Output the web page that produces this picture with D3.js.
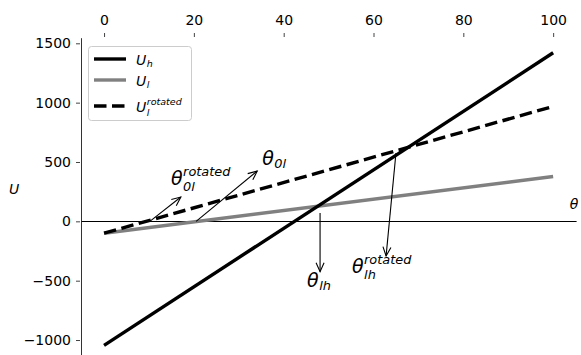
<!DOCTYPE html>
<html lang="en">
  <head>
    <meta charset="utf-8">
    <title>U vs theta</title>
    <script src="https://d3js.org/d3.v7.min.js"></script>
    <style>
      body { margin: 0; background: #fff; }
      text { font-family: "DejaVu Sans", sans-serif; }
    </style>
  </head>
  <body>
  <script>

// data
  var theta = [0, 100];
  var uH = [-1045, 1420];
  var uL = [-100, 378];
  var uLRot = [-100, 968];

  var xTicks = [0, 20, 40, 60, 80, 100];
  var yTicks = [-1000, -500, 0, 500, 1000, 1500];

  var annMain = ["θ", "θ", "θ", "θ"];
  var annSub = ["0l", "0l", "lh", "lh"];
  var annSup = ["rotated", "", "", "rotated"];
  var annFrom = [[10.2, 0], [20.5, 0], [48.1, 70], [65.0, 576]];
  var annTo = [[17.1, 205], [34.1, 424], [48.1, -424], [62.8, -292]];
  var annText = [[14.9, 306], [35.2, 474], [45.2, -554], [55.2, -437]];

  var legMain = ["U", "U", "U"];
  var legSub = ["h", "l", "l"];
  var legSup = ["", "", "rotated"];

  var w = 581, h = 355;

  var svg = d3.select("body").append("svg")
      .attr("width", w)
      .attr("height", h);

  var x = d3.scaleLinear().domain([-5, 105]).range([81.6, 575.6]);
  var y = d3.scaleLinear().domain([-1165, 1543]).range([359.6, 38.2]);

// axes
  var axTop = svg.append("g").attr("transform", "translate(0,37)")
      .call(d3.axisTop(x).tickValues(xTicks).tickSize(4).tickPadding(8));
  axTop.select(".domain").remove();
  axTop.selectAll("text").attr("font-size", 14).attr("font-family", "DejaVu Sans")
      .attr("fill", "#000");
  axTop.selectAll("line").attr("stroke", "#444");

  var axLeft = svg.append("g").attr("transform", "translate(81,0)")
      .call(d3.axisLeft(y).tickValues(yTicks).tickSize(4).tickPadding(5)
        .tickFormat(d => d < 0 ? "\u2212" + Math.abs(d) : d));
  axLeft.select(".domain").attr("d", `M0.5,${y.range()[1]}V${y.range()[0]}`)
      .attr("stroke", "#333");
  axLeft.selectAll(".tick line").attr("transform", "translate(-1,0)").attr("stroke", "#444");
  axLeft.selectAll("text").attr("font-size", 14).attr("font-family", "DejaVu Sans")
      .attr("fill", "#000").attr("dx", -1);

  // zero line (theta axis)
  svg.append("line")
      .attr("x1", x(-5)).attr("x2", x(105) + 1)
      .attr("y1", Math.round(y(0)) + 0.5).attr("y2", Math.round(y(0)) + 0.5)
      .attr("stroke", "#000").attr("stroke-width", 1);

  // axis labels
  svg.append("text").attr("x", 14).attr("y", 194)
      .attr("text-anchor", "middle").attr("font-size", 14).attr("font-style", "italic")
      .text("U");
  svg.append("text").attr("x", 574).attr("y", 209)
      .attr("text-anchor", "middle").attr("font-size", 14).attr("font-style", "italic")
      .text("θ");

// lines
  var line = d3.line().x((d, i) => x(theta[i])).y(d => y(d));

  svg.append("path").datum(uL).attr("d", line)
      .attr("fill", "none").attr("stroke", "#808080").attr("stroke-width", 3.4);
  svg.append("path").datum(uH).attr("d", line)
      .attr("fill", "none").attr("stroke", "#000").attr("stroke-width", 3.4);
  svg.append("path").datum(uLRot).attr("d", line)
      .attr("fill", "none").attr("stroke", "#000").attr("stroke-width", 3.4)
      .attr("stroke-dasharray", "12.5,5.5");

// math-like text: main symbol with sub and superscript
  function mathText(g, tx, ty, main, sub, sup, size) {
    var m = g.append("text").attr("x", tx).attr("y", ty)
        .attr("font-size", size).attr("font-style", "italic").text(main);
    var mw = m.node().getComputedTextLength();
    var s = size * 0.68;
    if (sub) {
      g.append("text").attr("x", tx + mw + 0.5)
          .attr("y", ty + size * (sup ? 0.3 : 0.17))
          .attr("font-size", s).attr("font-style", "italic").text(sub);
    }
    if (sup) {
      g.append("text").attr("x", tx + mw + 0.5).attr("y", ty - size * 0.5)
          .attr("font-size", s).attr("font-style", "italic").text(sup);
    }
  }

// annotations with arrows
  var ann = svg.append("g");
  annFrom.forEach(function (p, i) {
    var x1 = x(p[0]), y1 = y(p[1]);
    var x2 = x(annTo[i][0]), y2 = y(annTo[i][1]);
    var a = Math.atan2(y2 - y1, x2 - x1);
    var hl = 9, hw = 4;
    var bx = x2 - hl * Math.cos(a), by = y2 - hl * Math.sin(a);
    var px = -Math.sin(a) * hw, py = Math.cos(a) * hw;
    ann.append("line").attr("x1", x1).attr("y1", y1).attr("x2", x2).attr("y2", y2)
        .attr("stroke", "#000").attr("stroke-width", 1.1);
    ann.append("path")
        .attr("d", `M${bx + px},${by + py}L${x2},${y2}L${bx - px},${by - py}`)
        .attr("fill", "none").attr("stroke", "#000").attr("stroke-width", 1.1);
    mathText(ann, x(annText[i][0]), y(annText[i][1]), annMain[i], annSub[i], annSup[i], 19);
  });

// legend
  var leg = svg.append("g");
  leg.append("rect").attr("x", 88.5).attr("y", 46.5).attr("width", 103).attr("height", 74)
      .attr("rx", 3).attr("fill", "#fff").attr("fill-opacity", 0.8)
      .attr("stroke", "#ccc").attr("stroke-width", 1);
  var legColor = ["#000", "#808080", "#000"];
  var legDash = [null, null, "12.5,5.5"];
  var legY = [59, 80, 106];
  legY.forEach(function (ly, i) {
    leg.append("line").attr("x1", 94).attr("x2", 126).attr("y1", ly).attr("y2", ly)
        .attr("stroke", legColor[i]).attr("stroke-width", 3.4)
        .attr("stroke-dasharray", legDash[i]);
    mathText(leg, 136, ly + 6, legMain[i], legSub[i], legSup[i], 14);
  });

  </script>
  </body>
</html>
